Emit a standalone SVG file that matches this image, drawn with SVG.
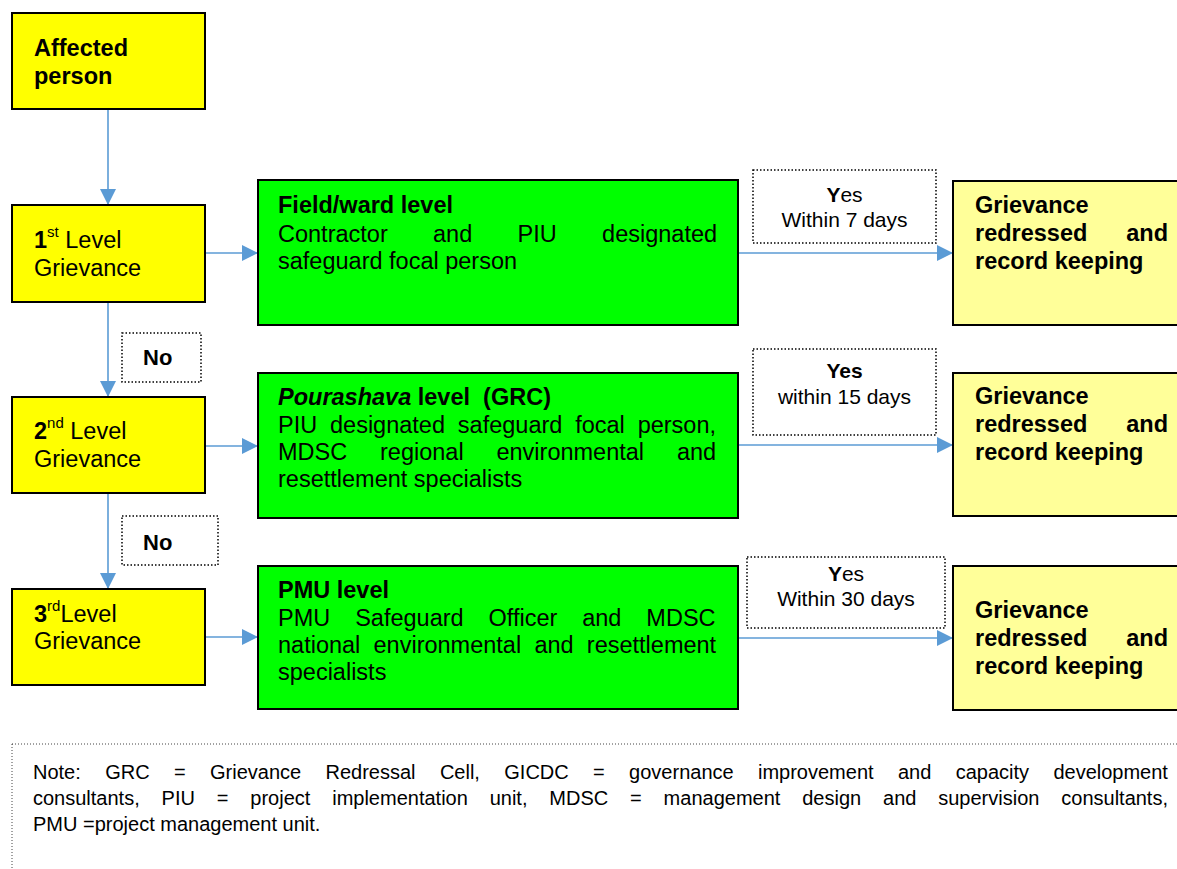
<svg xmlns="http://www.w3.org/2000/svg" width="1177" height="869" viewBox="0 0 1177 869">
<defs>
<style>
text{font-family:"Liberation Sans",Arial,sans-serif;fill:#000}
.t{font-size:23.5px}
.b{font-weight:bold}
.y{font-size:21px;text-anchor:middle}
.sup{font-size:15px}
.n{font-size:20px}
.yel{fill:#FFFF00;stroke:#000;stroke-width:2}
.grn{fill:#00FF00;stroke:#000;stroke-width:2}
.lyel{fill:#FFFF99;stroke:#000;stroke-width:2}
.dot{fill:#fff;stroke:#000;stroke-width:1.5;stroke-dasharray:1.5 2}
.con{stroke:#5B9BD5;stroke-width:1.6;fill:none;marker-end:url(#ah)}
</style>
<marker id="ah" markerUnits="userSpaceOnUse" markerWidth="16" markerHeight="16" refX="16" refY="8" orient="auto">
<path d="M0,0 L16,8 L0,16 Z" fill="#5B9BD5"/>
</marker>
</defs>
<rect width="1177" height="869" fill="#fff"/>

<g id="connectors">
<line class="con" x1="108" y1="109" x2="108" y2="205"/>
<line class="con" x1="108" y1="302" x2="108" y2="397"/>
<line class="con" x1="108" y1="493" x2="108" y2="589"/>
<line class="con" x1="205" y1="253" x2="258" y2="253"/>
<line class="con" x1="205" y1="446" x2="258" y2="446"/>
<line class="con" x1="205" y1="637" x2="258" y2="637"/>
<line class="con" x1="738" y1="253" x2="953" y2="253"/>
<line class="con" x1="738" y1="445" x2="953" y2="445"/>
<line class="con" x1="738" y1="638" x2="953" y2="638"/>
</g>

<g id="affected">
<rect class="yel" x="12" y="13" width="193" height="96"/>
<text class="t b" x="34" y="56">Affected</text>
<text class="t b" x="34" y="84">person</text>
</g>

<g id="level1">
<rect class="yel" x="12" y="205" width="193" height="97"/>
<text class="t" x="34" y="248"><tspan class="b">1</tspan><tspan class="sup" dy="-11">st</tspan><tspan dy="11"> Level</tspan></text>
<text class="t" x="34" y="276">Grievance</text>
</g>

<g id="level2">
<rect class="yel" x="12" y="397" width="193" height="96"/>
<text class="t" x="34" y="439"><tspan class="b">2</tspan><tspan class="sup" dy="-11">nd</tspan><tspan dy="11"> Level</tspan></text>
<text class="t" x="34" y="467">Grievance</text>
</g>

<g id="level3">
<rect class="yel" x="12" y="589" width="193" height="96"/>
<text class="t" x="34" y="622"><tspan class="b">3</tspan><tspan class="sup" dy="-11">rd</tspan><tspan dy="11">Level</tspan></text>
<text class="t" x="34" y="649">Grievance</text>
</g>

<g id="no1">
<rect class="dot" x="122" y="333" width="79" height="49"/>
<text class="b" font-size="22" x="143" y="365">No</text>
</g>
<g id="no2">
<rect class="dot" x="122" y="516" width="96" height="49"/>
<text class="b" font-size="22" x="143" y="550">No</text>
</g>

<g id="field">
<rect class="grn" x="258" y="180" width="480" height="145"/>
<text class="t b" x="278" y="213">Field/ward level</text>
<text class="t" x="278" y="242" word-spacing="38.8">Contractor and PIU designated</text>
<text class="t" x="278" y="269">safeguard focal person</text>
</g>

<g id="pourashava">
<rect class="grn" x="258" y="373" width="480" height="145"/>
<text class="t b" x="278" y="405" style="white-space:pre"><tspan font-style="italic">Pourashava</tspan> level  (GRC)</text>
<text class="t" x="278" y="433" word-spacing="6.3">PIU designated safeguard focal person,</text>
<text class="t" x="278" y="460" word-spacing="26.3">MDSC regional environmental and</text>
<text class="t" x="278" y="487">resettlement specialists</text>
</g>

<g id="pmu">
<rect class="grn" x="258" y="566" width="480" height="143"/>
<text class="t b" x="278" y="598">PMU level</text>
<text class="t" x="278" y="626" word-spacing="18.4">PMU Safeguard Officer and MDSC</text>
<text class="t" x="278" y="653" word-spacing="6.7">national environmental and resettlement</text>
<text class="t" x="278" y="680">specialists</text>
</g>

<g id="yes1">
<rect class="dot" x="753" y="170" width="183" height="73"/>
<text class="y" x="844.5" y="202"><tspan class="b">Y</tspan>es</text>
<text class="y" x="844.5" y="227">Within 7 days</text>
</g>
<g id="yes2">
<rect class="dot" x="753" y="349" width="183" height="86"/>
<text class="y b" x="844.5" y="378">Yes</text>
<text class="y" x="844.5" y="404">within 15 days</text>
</g>
<g id="yes3">
<rect class="dot" x="747" y="557" width="198" height="71"/>
<text class="y" x="846" y="581"><tspan class="b">Y</tspan>es</text>
<text class="y" x="846" y="606">Within 30 days</text>
</g>

<g id="redressed1">
<rect class="lyel" x="953" y="181" width="240" height="144"/>
<text class="t b" x="975" y="213">Grievance</text>
<text class="t b" x="975" y="241" word-spacing="32.4">redressed and</text>
<text class="t b" x="975" y="269">record keeping</text>
</g>
<g id="redressed2">
<rect class="lyel" x="953" y="373" width="240" height="143"/>
<text class="t b" x="975" y="404">Grievance</text>
<text class="t b" x="975" y="432" word-spacing="32.4">redressed and</text>
<text class="t b" x="975" y="460">record keeping</text>
</g>
<g id="redressed3">
<rect class="lyel" x="953" y="566" width="240" height="144"/>
<text class="t b" x="975" y="618">Grievance</text>
<text class="t b" x="975" y="646" word-spacing="32.4">redressed and</text>
<text class="t b" x="975" y="674">record keeping</text>
</g>

<g id="note">
<rect x="12" y="744" width="1200" height="200" fill="none" stroke="#444" stroke-width="1" stroke-dasharray="1 2"/>
<text class="n" x="33" y="779" word-spacing="18.8">Note: GRC = Grievance Redressal Cell, GICDC = governance improvement and capacity development</text>
<text class="n" x="33" y="805" word-spacing="16.3">consultants, PIU = project implementation unit, MDSC = management design and supervision consultants,</text>
<text class="n" x="33" y="831">PMU =project management unit.</text>
</g>
</svg>
